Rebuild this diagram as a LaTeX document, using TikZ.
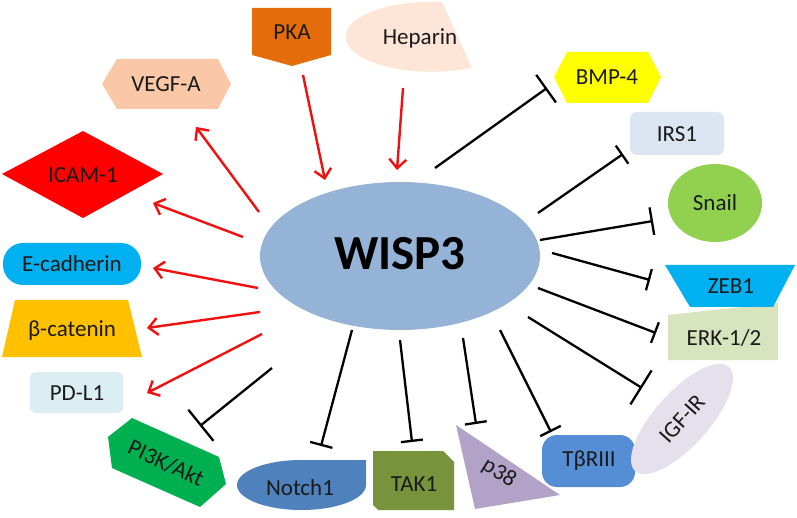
\documentclass[tikz,border=0pt]{standalone}
\usepackage{fontspec}
\setmainfont{Carlito}
\usetikzlibrary{arrows.meta,shapes.geometric}
\definecolor{wispc}{HTML}{95B3D7}
\definecolor{pkac}{HTML}{E46C0A}
\definecolor{hepc}{HTML}{FDE6D8}
\definecolor{vegfc}{HTML}{FAC8A6}
\definecolor{icamc}{HTML}{FF0000}
\definecolor{ecadc}{HTML}{00B0F0}
\definecolor{bcatc}{HTML}{FFC000}
\definecolor{pdlc}{HTML}{DBEEF4}
\definecolor{pikc}{HTML}{00B050}
\definecolor{notchc}{HTML}{4F81BD}
\definecolor{takc}{HTML}{77933C}
\definecolor{pxc}{HTML}{B3A2C7}
\definecolor{tbrc}{HTML}{558ED5}
\definecolor{igfc}{HTML}{E6E0EC}
\definecolor{erkc}{HTML}{D7E4BD}
\definecolor{zebc}{HTML}{00B0F0}
\definecolor{snailc}{HTML}{92D050}
\definecolor{irsc}{HTML}{DCE6F2}
\definecolor{bmpc}{HTML}{FFFF00}
\definecolor{arrred}{HTML}{F01010}
\definecolor{txt}{HTML}{1A1A1A}
\begin{document}
\begin{tikzpicture}[x=1pt,y=-1pt,
  lbl/.style={font=\fontsize{23}{27}\selectfont, text=txt, inner sep=0pt},
  act/.style={draw=arrred, line width=2.4pt, -{Straight Barb[length=9pt,width=17pt,line width=2.4pt]}},
  inh/.style={draw=black, line width=2.3pt, -{Bar[width=#1,line width=2.3pt]}},
  inh/.default=23pt
]
\useasboundingbox[fill=white] (0,0) rectangle (797,518);

% central node
\node[ellipse, fill=wispc, minimum width=280pt, minimum height=148pt, inner sep=0pt] (wisp) at (400,256) {};
\node[font=\fontsize{49}{52}\bfseries\selectfont, text=black, inner sep=0pt] (wisplbl) at (400,254) {WISP3};

% PKA
\fill[pkac] (252,8) -- (331,8) -- (331,55) -- (292,66) -- (252,55) -- cycle;
\node[lbl] (pka) at (292,32) {PKA};
% Heparin
\fill[hepc] (442,2) arc[start angle=277, end angle=62, x radius=86, y radius=35] -- cycle;
\node[lbl] (hep) at (420,38) {Heparin};
% VEGF-A
\fill[vegfc] (102,84) -- (117,59) -- (218,59) -- (231,84) -- (218,109) -- (117,109) -- cycle;
\node[lbl] (vegf) at (166,84) {VEGF-A};
% ICAM-1
\fill[icamc] (2,174) -- (83,131) -- (163,174) -- (83,218) -- cycle;
\node[lbl] (icam) at (83,175) {ICAM-1};
% E-cadherin
\fill[ecadc, rounded corners=20pt] (3,243) rectangle (141,285);
\node[lbl] (ecad) at (72,264) {E-cadherin};
% beta-catenin
\fill[bcatc] (15,300) -- (128,300) -- (142,357) -- (2,357) -- cycle;
\node[lbl] (bcat) at (72,331) {β-catenin};
% PD-L1
\fill[pdlc, rounded corners=6pt] (30,372) rectangle (123,413);
\node[lbl] (pdl) at (77,393) {PD-L1};
% PI3K/Akt
\fill[pikc] (108,437) -- (132,418) -- (219,457) -- (226,484) -- (200,507) -- (112,468) -- cycle;
\node[lbl, rotate=-25] (pik) at (166,463) {PI3K/Akt};
% Notch1
\fill[notchc] (366,460) -- (301.5,460) arc[start angle=270, end angle=90, x radius=64.5, y radius=25]
  arc[start angle=90, end angle=0, x radius=64.5, y radius=25] -- cycle;
\node[lbl] (notch) at (300,488) {Notch1};
% TAK1
\fill[takc] (373,451) -- (443,451) -- (454,462) -- (454,510) -- (378,510) -- (373,505) -- cycle;
\node[lbl] (tak) at (414,484) {TAK1};
% p38
\fill[pxc] (456,425) -- (560,495) -- (475,509) -- cycle;
\node[lbl, rotate=-32] (px) at (499,473) {p38};
% TbetaRIII
\fill[tbrc, rounded corners=15pt] (542,435) rectangle (635,487);
\node[lbl] (tbr) at (589,461) {TβRIII};
% IGF-IR
\node[ellipse, fill=igfc, minimum width=140pt, minimum height=54pt, inner sep=0pt, rotate=48] (igf) at (682,419) {};
\node[lbl, rotate=48] (igflbl) at (682,419) {IGF-IR};
% ERK-1/2
\fill[erkc] (668,315) -- (778,303) -- (778,360) -- (668,360) -- cycle;
\node[lbl] (erk) at (724,338) {ERK-1/2};
% ZEB1
\fill[zebc] (665,265) -- (795,265) -- (773,307) -- (690,307) -- cycle;
\node[lbl] (zeb) at (731,286) {ZEB1};
% Snail
\node[ellipse, fill=snailc, minimum width=94pt, minimum height=78pt, inner sep=0pt] (snailbg) at (715,203) {};
\node[lbl] (snail) at (715,203) {Snail};
% IRS1
\fill[irsc, rounded corners=7pt] (630,112) rectangle (724,155);
\node[lbl] (irs) at (677,134) {IRS1};
% BMP-4
\fill[bmpc] (554,77) -- (567,52) -- (648,52) -- (661,77) -- (648,103) -- (567,103) -- cycle;
\node[lbl] (bmp) at (607,77) {BMP-4};

% connector end points
\coordinate (pkaS) at (303,75);   \coordinate (pkaE) at (325,180);
\coordinate (hepS) at (403,88);   \coordinate (hepE) at (397,170);
\coordinate (vegS) at (259,212);  \coordinate (vegE) at (196,127);
\coordinate (icaS) at (243,237);  \coordinate (icaE) at (153,203);
\coordinate (ecaS) at (258,288);  \coordinate (ecaE) at (153,268);
\coordinate (bcaS) at (260,312);  \coordinate (bcaE) at (147,328);
\coordinate (pdlS) at (262,334);  \coordinate (pdlE) at (147,393);

\coordinate (bmpS) at (435,168);  \coordinate (bmpE) at (547,88);
\coordinate (irsS) at (538,213);  \coordinate (irsE) at (623,154);
\coordinate (snaS) at (540,240);  \coordinate (snaE) at (653,221);
\coordinate (zebS) at (552,253);  \coordinate (zebE) at (650,280);
\coordinate (erkS) at (538,288);  \coordinate (erkE) at (656,333);
\coordinate (igfS) at (528,317);  \coordinate (igfE) at (642,388);
\coordinate (tbrS) at (500,330);  \coordinate (tbrE) at (551,432);
\coordinate (pxS)  at (463,338);  \coordinate (pxE)  at (476,424);
\coordinate (takS) at (400,340);  \coordinate (takE) at (412,442);
\coordinate (notS) at (352,330);  \coordinate (notE) at (321,446);
\coordinate (pikS) at (272,368);  \coordinate (pikE) at (200,426);

% activating arrows
\draw[act] (pkaS) -- (pkaE);
\draw[act] (hepS) -- (hepE);
\draw[act] (vegS) -- (vegE);
\draw[act] (icaS) -- (icaE);
\draw[act] (ecaS) -- (ecaE);
\draw[act] (bcaS) -- (bcaE);
\draw[act] (pdlS) -- (pdlE);

% inhibiting lines
\draw[inh=34pt] (bmpS) -- (bmpE);
\draw[inh=22pt] (irsS) -- (irsE);
\draw[inh=28pt] (snaS) -- (snaE);
\draw[inh=22pt] (zebS) -- (zebE);
\draw[inh=22pt] (erkS) -- (erkE);
\draw[inh=40pt] (igfS) -- (igfE);
\draw[inh=23pt] (tbrS) -- (tbrE);
\draw[inh=22pt] (pxS) -- (pxE);
\draw[inh=22pt] (takS) -- (takE);
\draw[inh=23pt] (notS) -- (notE);
\draw[inh=40pt] (pikS) -- (pikE);
\end{tikzpicture}
\end{document}
